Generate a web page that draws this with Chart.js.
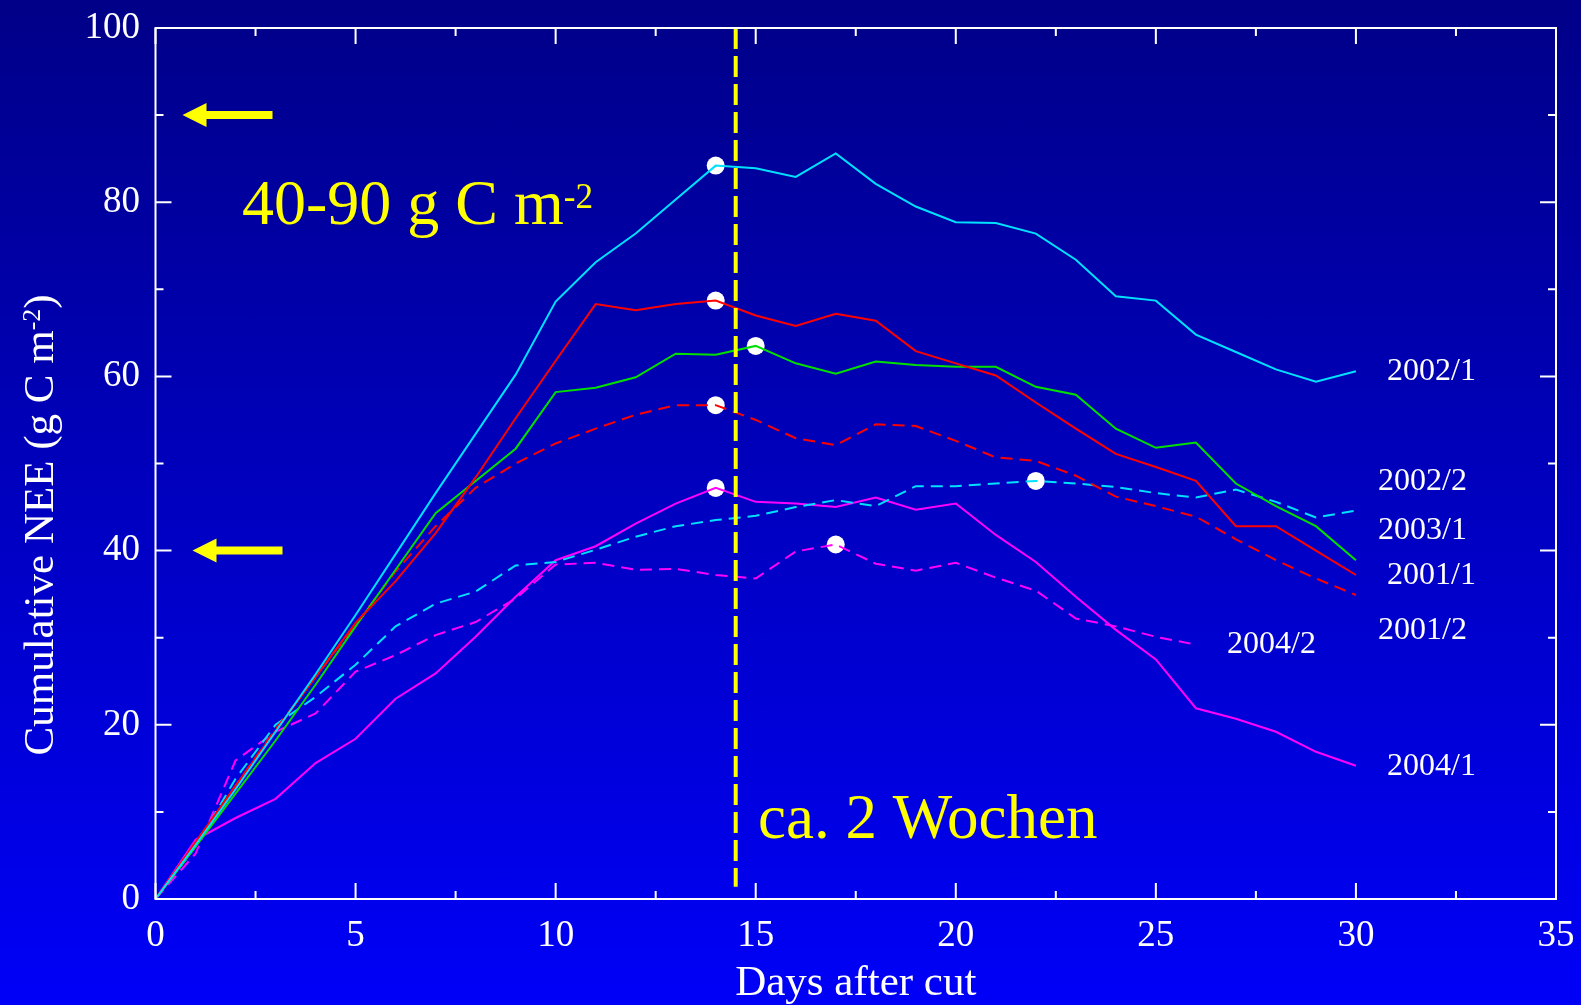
<!DOCTYPE html>
<html>
<head>
<meta charset="utf-8">
<title>Cumulative NEE after cut</title>
<script src="https://cdn.jsdelivr.net/npm/chart.js@4.4.1/dist/chart.umd.min.js"></script>
<style>
  html, body { margin: 0; padding: 0; }
  body {
    width: 1581px; height: 1005px; overflow: hidden;
    background: linear-gradient(to bottom, #000088 0%, #0000f8 100%);
  }
  canvas { display: block; }
</style>
</head>
<body>
<canvas id="nee-chart" width="1581" height="1005"></canvas>
<script>
// days after cut
const days = [0, 1, 2, 3, 4, 5, 6, 7, 8, 9, 10, 11, 12, 13, 14, 15, 16, 17, 18, 19, 20,
              21, 22, 23, 24, 25, 26, 27, 28, 29, 30];

// cumulative NEE (g C m-2)
const nee2002_1 = [0, 6.2, 12.6, 19.2, 25.8, 32.6, 39.6, 46.6, 53.4, 60.2, 68.6, 73.1, 76.4, 80.3, 84.2,
                   83.9, 82.9, 85.6, 82.1, 79.5, 77.7, 77.6, 76.4, 73.4, 69.2, 68.7, 64.8, 62.8, 60.8, 59.4, 60.6];
const nee2001_1 = [0, 6.5, 13.0, 19.3, 25.5, 31.7, 36.5, 42.0, 48.4, 55.2, 61.8, 68.3, 67.6, 68.3, 68.7,
                   67.0, 65.8, 67.2, 66.4, 62.9, 61.5, 60.1, 57.0, 54.0, 51.1, 49.6, 48.0, 42.8, 42.8, 40.0, 37.2];
const nee2003_1 = [0, 6.0, 12.1, 18.2, 24.6, 31.3, 37.8, 44.3, 48.0, 51.7, 58.2, 58.7, 59.9, 62.6, 62.5,
                   63.5, 61.5, 60.3, 61.7, 61.3, 61.1, 61.1, 58.8, 57.9, 54.0, 51.8, 52.4, 47.7, 45.1, 42.8, 38.9];
const nee2001_2 = [0, 6.5, 13.0, 19.5, 25.5, 31.5, 37.6, 42.8, 47.2, 50.0, 52.3, 54.0, 55.6, 56.7, 56.7,
                   55.0, 52.9, 52.1, 54.5, 54.3, 52.6, 50.7, 50.3, 48.6, 46.2, 45.1, 43.9, 41.3, 38.9, 36.8, 34.9];
const nee2002_2 = [0, 6.0, 13.8, 20.0, 23.2, 26.9, 31.3, 33.9, 35.3, 38.3, 38.7, 40.1, 41.6, 42.8, 43.5,
                   44.0, 45.0, 45.8, 45.1, 47.4, 47.4, 47.7, 48.0, 47.7, 47.3, 46.6, 46.1, 47.0, 45.6, 43.8, 44.6];
const nee2004_1 = [0, 6.8, 9.3, 11.5, 15.6, 18.4, 23.0, 25.9, 30.1, 34.7, 38.9, 40.5, 43.1, 45.4, 47.2,
                   45.6, 45.4, 45.0, 46.1, 44.7, 45.4, 41.8, 38.7, 34.7, 30.9, 27.5, 21.9, 20.7, 19.2, 16.9, 15.3];
const nee2004_2 = [0, 5.2, 15.9, 19.2, 21.3, 26.1, 28.0, 30.3, 31.8, 34.5, 38.4, 38.6, 37.8, 37.9, 37.2,
                   36.8, 39.9, 40.7, 38.5, 37.7, 38.6, 36.9, 35.4, 32.2, 31.3, 30.1, 29.2];

// day of the marked maximum for each series
const peakDays = [14, 14, 15, 14, 22, 14, 17];

// the "ca. 2 Wochen" line and the two arrows
const cutLineDay = 14.5;
const arrowLevels = [90, 40];

const SERIF = "'Liberation Serif', 'DejaVu Serif', serif";

const series = [
    { name: '2002/1', values: nee2002_1, color: '#00e0ff', dash: [], lx: 1387, ly: 380 },
    { name: '2001/1', values: nee2001_1, color: '#ff0000', dash: [], lx: 1387, ly: 584 },
    { name: '2003/1', values: nee2003_1, color: '#00e000', dash: [], lx: 1378, ly: 539 },
    { name: '2001/2', values: nee2001_2, color: '#ff0000', dash: [12, 7], lx: 1378, ly: 639 },
    { name: '2002/2', values: nee2002_2, color: '#00e0ff', dash: [12, 7], lx: 1378, ly: 490 },
    { name: '2004/1', values: nee2004_1, color: '#ff00ff', dash: [], lx: 1387, ly: 775 },
    { name: '2004/2', values: nee2004_2, color: '#ff00ff', dash: [12, 7], lx: 1227, ly: 653 }
];

const datasets = series.map(s => ({
    label: s.name,
    data: s.values.map((v, i) => ({ x: days[i], y: v })),
    borderColor: s.color,
    borderWidth: 2,
    borderDash: s.dash,
    pointRadius: 0,
    tension: 0,
    order: 1
}));

// white dots sit under the lines
datasets.push({
    label: 'peaks',
    data: series.map((s, i) => ({ x: peakDays[i], y: s.values[peakDays[i]] })),
    showLine: false,
    pointRadius: 9,
    pointBackgroundColor: '#ffffff',
    pointBorderWidth: 0,
    order: 5
});

datasets.push({
    label: 'cut',
    data: [{ x: cutLineDay, y: 100 }, { x: cutLineDay, y: 1.4 }],
    borderColor: '#ffff00',
    borderWidth: 4,
    borderDash: [21, 7],
    pointRadius: 0,
    order: 0
});

// draws text with a smaller raised part, e.g. m-2
function richText(ctx, parts, x, y, size, align) {
    let total = 0;
    parts.forEach(p => {
        ctx.font = (size * p.scale) + 'px ' + SERIF;
        p.w = ctx.measureText(p.t).width;
        total += p.w;
    });
    let cx = align === 'center' ? x - total / 2 : x;
    parts.forEach(p => {
        ctx.font = (size * p.scale) + 'px ' + SERIF;
        ctx.fillText(p.t, cx, y - p.rise * size);
        cx += p.w;
    });
}

const framePlugin = {
    id: 'frame',
    afterDraw(chart) {
        const { ctx, chartArea: a, scales: { x, y } } = chart;
        ctx.save();
        ctx.strokeStyle = '#ffffff';
        ctx.lineWidth = 2;
        ctx.strokeRect(a.left, a.top, a.right - a.left, a.bottom - a.top);

        ctx.beginPath();
        x.ticks.forEach(t => {
            const px = x.getPixelForValue(t.value);
            const len = t.value % 5 === 0 ? 16 : 8;
            ctx.moveTo(px, a.bottom); ctx.lineTo(px, a.bottom - len);
            ctx.moveTo(px, a.top); ctx.lineTo(px, a.top + len);
        });
        y.ticks.forEach(t => {
            const py = y.getPixelForValue(t.value);
            const len = t.value % 20 === 0 ? 16 : 8;
            ctx.moveTo(a.left, py); ctx.lineTo(a.left + len, py);
            ctx.moveTo(a.right, py); ctx.lineTo(a.right - len, py);
        });
        ctx.stroke();

        // arrows pointing to the left axis
        ctx.fillStyle = '#ffff00';
        arrowLevels.forEach((lvl, i) => {
            const py = y.getPixelForValue(lvl);
            const tip = a.left + (i === 0 ? 27 : 37);
            const head = tip + 24;
            const end = tip + 90;
            ctx.beginPath();
            ctx.moveTo(tip, py);
            ctx.lineTo(head, py - 12);
            ctx.lineTo(head, py - 4);
            ctx.lineTo(end, py - 4);
            ctx.lineTo(end, py + 4);
            ctx.lineTo(head, py + 4);
            ctx.lineTo(head, py + 12);
            ctx.closePath();
            ctx.fill();
        });

        ctx.textBaseline = 'alphabetic';
        ctx.textAlign = 'left';
        richText(ctx, [
            { t: '40-90 g C m', scale: 1, rise: 0 },
            { t: '-2', scale: 0.55, rise: 0.25 }
        ], 242, 224, 64, 'left');
        ctx.font = '63px ' + SERIF;
        ctx.fillText('ca. 2 Wochen', 758, 838);

        // series labels
        ctx.fillStyle = '#ffffff';
        ctx.font = '32px ' + SERIF;
        series.forEach(s => ctx.fillText(s.name, s.lx, s.ly));

        // axis titles
        ctx.font = '43px ' + SERIF;
        ctx.textAlign = 'center';
        ctx.fillText('Days after cut', (a.left + a.right) / 2, 995);

        ctx.translate(53, 525);
        ctx.rotate(-Math.PI / 2);
        ctx.textAlign = 'left';
        richText(ctx, [
            { t: 'Cumulative NEE (g C m', scale: 1, rise: 0 },
            { t: '-2', scale: 0.6, rise: 0.3 },
            { t: ')', scale: 1, rise: 0 }
        ], 0, 0, 43, 'center');
        ctx.restore();
    }
};

new Chart(document.getElementById('nee-chart'), {
    type: 'line',
    data: { datasets: datasets },
    options: {
        responsive: false,
        animation: false,
        layout: { padding: { top: 28, right: 25, left: 0, bottom: 0 } },
        plugins: { legend: { display: false }, tooltip: { enabled: false } },
        scales: {
            x: {
                type: 'linear',
                min: 0, max: 35,
                grid: { display: false, drawTicks: false },
                border: { display: false },
                afterFit: scale => {
                    scale.height = 106;
                    scale.paddingLeft = 0;
                    scale.paddingRight = 0;
                },
                ticks: {
                    stepSize: 2.5,
                    autoSkip: false,
                    maxRotation: 0,
                    padding: 15,
                    color: '#ffffff',
                    font: { family: SERIF, size: 37 },
                    callback: v => (v % 5 === 0 ? v : '')
                }
            },
            y: {
                min: 0, max: 100,
                grid: { display: false, drawTicks: false },
                border: { display: false },
                afterFit: scale => {
                    scale.width = 155.5;
                    scale.paddingTop = 0;
                    scale.paddingBottom = 0;
                },
                ticks: {
                    stepSize: 10,
                    autoSkip: false,
                    padding: 15.5,
                    color: '#ffffff',
                    font: { family: SERIF, size: 37 },
                    callback: v => (v % 20 === 0 ? v : '')
                }
            }
        }
    },
    plugins: [framePlugin]
});
</script>
</body>
</html>
